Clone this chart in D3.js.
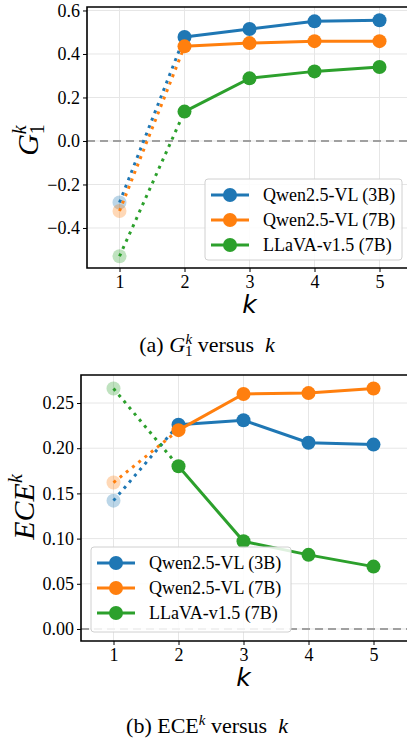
<!DOCTYPE html>
<html>
<head>
	<meta charset="utf-8">
	<title></title>
	<script src="https://d3js.org/d3.v7.min.js" charset="utf-8"></script>
	<style>
		body{margin:0;background:#fff;}
		svg text{font-family:"Liberation Serif","Times New Roman",Times,"DejaVu Serif",serif !important;}
		svg text.sans{font-family:"DejaVu Sans",sans-serif !important;}
	</style>
</head>
<body>
	<script>
	var w=407;
	var h=740;

	var kValues=[1,2,3,4,5];
	var seriesNames=["Qwen2.5-VL (3B)","Qwen2.5-VL (7B)","LLaVA-v1.5 (7B)"];
	var colors=["#1f77b4","#ff7f0e","#2ca02c"];

	// panel (a): G_1^k
	var gQwen3=[-0.283,0.478,0.515,0.550,0.555];
	var gQwen7=[-0.322,0.435,0.450,0.459,0.459];
	var gLlava=[-0.530,0.135,0.288,0.320,0.340];
	var gTicks=[-0.4,-0.2,0.0,0.2,0.4,0.6];

	// panel (b): ECE^k
	var eQwen3=[0.142,0.226,0.231,0.206,0.204];
	var eQwen7=[0.162,0.220,0.260,0.261,0.266];
	var eLlava=[0.266,0.180,0.097,0.082,0.069];
	var eTicks=[0.00,0.05,0.10,0.15,0.20,0.25];

	var svg=d3.select("body").append("svg").attr("width",w).attr("height",h);

	function panel(o){
		var x=d3.scaleLinear().domain([0.5,5.5]).range([o.left,o.left+325]);
		var y=d3.scaleLinear().domain(o.ydom).range([o.bottom,o.top]);
		var g=svg.append("g");

		// grid
		g.selectAll(".gx").data(kValues).enter().append("line")
			.attr("x1",d=>x(d)).attr("x2",d=>x(d)).attr("y1",o.top).attr("y2",o.bottom)
			.attr("stroke","#e6e6e6").attr("stroke-width",1);
		g.selectAll(".gy").data(o.ticks).enter().append("line")
			.attr("x1",o.left).attr("x2",w).attr("y1",d=>y(d)).attr("y2",d=>y(d))
			.attr("stroke","#e6e6e6").attr("stroke-width",1);

		// zero line
		g.append("line").attr("x1",o.left).attr("x2",w).attr("y1",y(0)).attr("y2",y(0))
			.attr("stroke","#a0a0a0").attr("stroke-width",2).attr("stroke-dasharray","8,5");

		// axes
		var ax=g.append("g").attr("transform","translate(0,"+o.bottom+")")
			.call(d3.axisBottom(x).tickValues(kValues).tickSize(4).tickPadding(3).tickFormat(d3.format("d")));
		var ay=g.append("g").attr("transform","translate("+o.left+",0)")
			.call(d3.axisLeft(y).tickValues(o.ticks).tickSize(4).tickPadding(3).tickFormat(o.fmt));
		[ax,ay].forEach(function(a){
			a.attr("font-family",null);
			a.select(".domain").remove();
			a.selectAll("text").attr("font-size",18).attr("fill","#000");
			a.selectAll("line").attr("stroke","#000");
		});

		// series
		o.series.forEach(function(s,i){
			var c=colors[i];
			g.append("line")
				.attr("x1",x(kValues[0])).attr("y1",y(s[0]))
				.attr("x2",x(kValues[1])).attr("y2",y(s[1]))
				.attr("stroke",c).attr("stroke-width",3).attr("stroke-dasharray","3,5");
			g.append("circle").attr("cx",x(kValues[0])).attr("cy",y(s[0])).attr("r",7)
				.attr("fill",c).attr("fill-opacity",0.3);
			var pts=kValues.slice(1).map((k,j)=>[k,s[j+1]]);
			g.append("path").datum(pts)
				.attr("d",d3.line().x(d=>x(d[0])).y(d=>y(d[1])))
				.attr("fill","none").attr("stroke",c).attr("stroke-width",3);
			g.selectAll(".m"+i).data(pts).enter().append("circle")
				.attr("cx",d=>x(d[0])).attr("cy",d=>y(d[1])).attr("r",7).attr("fill",c);
		});

		// frame
		g.append("path")
			.attr("d","M"+w+","+o.top+"H"+o.left+"V"+o.bottom+"H"+w)
			.attr("fill","none").attr("stroke","#000").attr("stroke-width",1.6);

		// legend
		var L=o.legend;
		g.append("rect").attr("x",L.x).attr("y",L.y).attr("width",L.w).attr("height",L.h)
			.attr("rx",3).attr("fill","#fff").attr("fill-opacity",0.85)
			.attr("stroke","#d0d0d0").attr("stroke-width",1);
		seriesNames.forEach(function(n,i){
			var ry=L.y+16+i*25;
			g.append("line").attr("x1",L.x+6).attr("x2",L.x+44).attr("y1",ry).attr("y2",ry)
				.attr("stroke",colors[i]).attr("stroke-width",3);
			g.append("circle").attr("cx",L.x+25).attr("cy",ry).attr("r",7).attr("fill",colors[i]);
			g.append("text").attr("x",L.x+58).attr("y",ry+6).attr("font-size",18).text(n);
		});

		// x label
		g.append("text").attr("class","sans").attr("x",x(3)).attr("y",o.bottom+45).attr("text-anchor","middle")
			.attr("font-size",25).attr("font-style","italic").text("k");
		return g;
	}

	var pa=panel({left:87,top:7,bottom:268,ydom:[-0.584,0.616],ticks:gTicks,
		fmt:d=>d3.format(".1f")(d).replace("-","\u2212"),
		series:[gQwen3,gQwen7,gLlava],
		legend:{x:205,y:179,w:197,h:81}});
	// y label (a)
	var ya=pa.append("text").attr("transform","translate(38,140) rotate(-90)")
		.attr("text-anchor","middle").attr("font-size",30);
	ya.append("tspan").attr("font-style","italic").text("G");
	ya.append("tspan").attr("font-size",20).attr("dy",6).text("1");
	ya.append("tspan").attr("font-size",20).attr("font-style","italic").attr("dx",-10).attr("dy",-18).text("k");
	// caption (a)
	var ca=svg.append("text").attr("x",207).attr("y",352).attr("text-anchor","middle").attr("font-size",22);
	ca.append("tspan").text("(a) ");
	ca.append("tspan").attr("font-style","italic").text("G");
	ca.append("tspan").attr("font-size",15).attr("dy",4).text("1");
	ca.append("tspan").attr("font-size",15).attr("font-style","italic").attr("dx",-7).attr("dy",-12).text("k");
	ca.append("tspan").attr("dy",8).text(" versus \u00a0");
	ca.append("tspan").attr("font-style","italic").text("k");

	var pb=panel({left:81,top:375,bottom:641,ydom:[-0.0133,0.281],ticks:eTicks,
		fmt:d3.format(".2f"),
		series:[eQwen3,eQwen7,eLlava],
		legend:{x:91,y:547,w:200,h:85}});
	var yb=pb.append("text").attr("transform","translate(34,507) rotate(-90)")
		.attr("text-anchor","middle").attr("font-size",30).attr("font-style","italic");
	yb.append("tspan").text("ECE");
	yb.append("tspan").attr("font-size",20).attr("dy",-12).text("k");
	var cb=svg.append("text").attr("x",207).attr("y",733).attr("text-anchor","middle").attr("font-size",22);
	cb.append("tspan").text("(b) ECE");
	cb.append("tspan").attr("font-size",15).attr("font-style","italic").attr("dy",-8).text("k");
	cb.append("tspan").attr("dy",8).text(" versus \u00a0");
	cb.append("tspan").attr("font-style","italic").text("k");
	</script>
</body>
</html>
